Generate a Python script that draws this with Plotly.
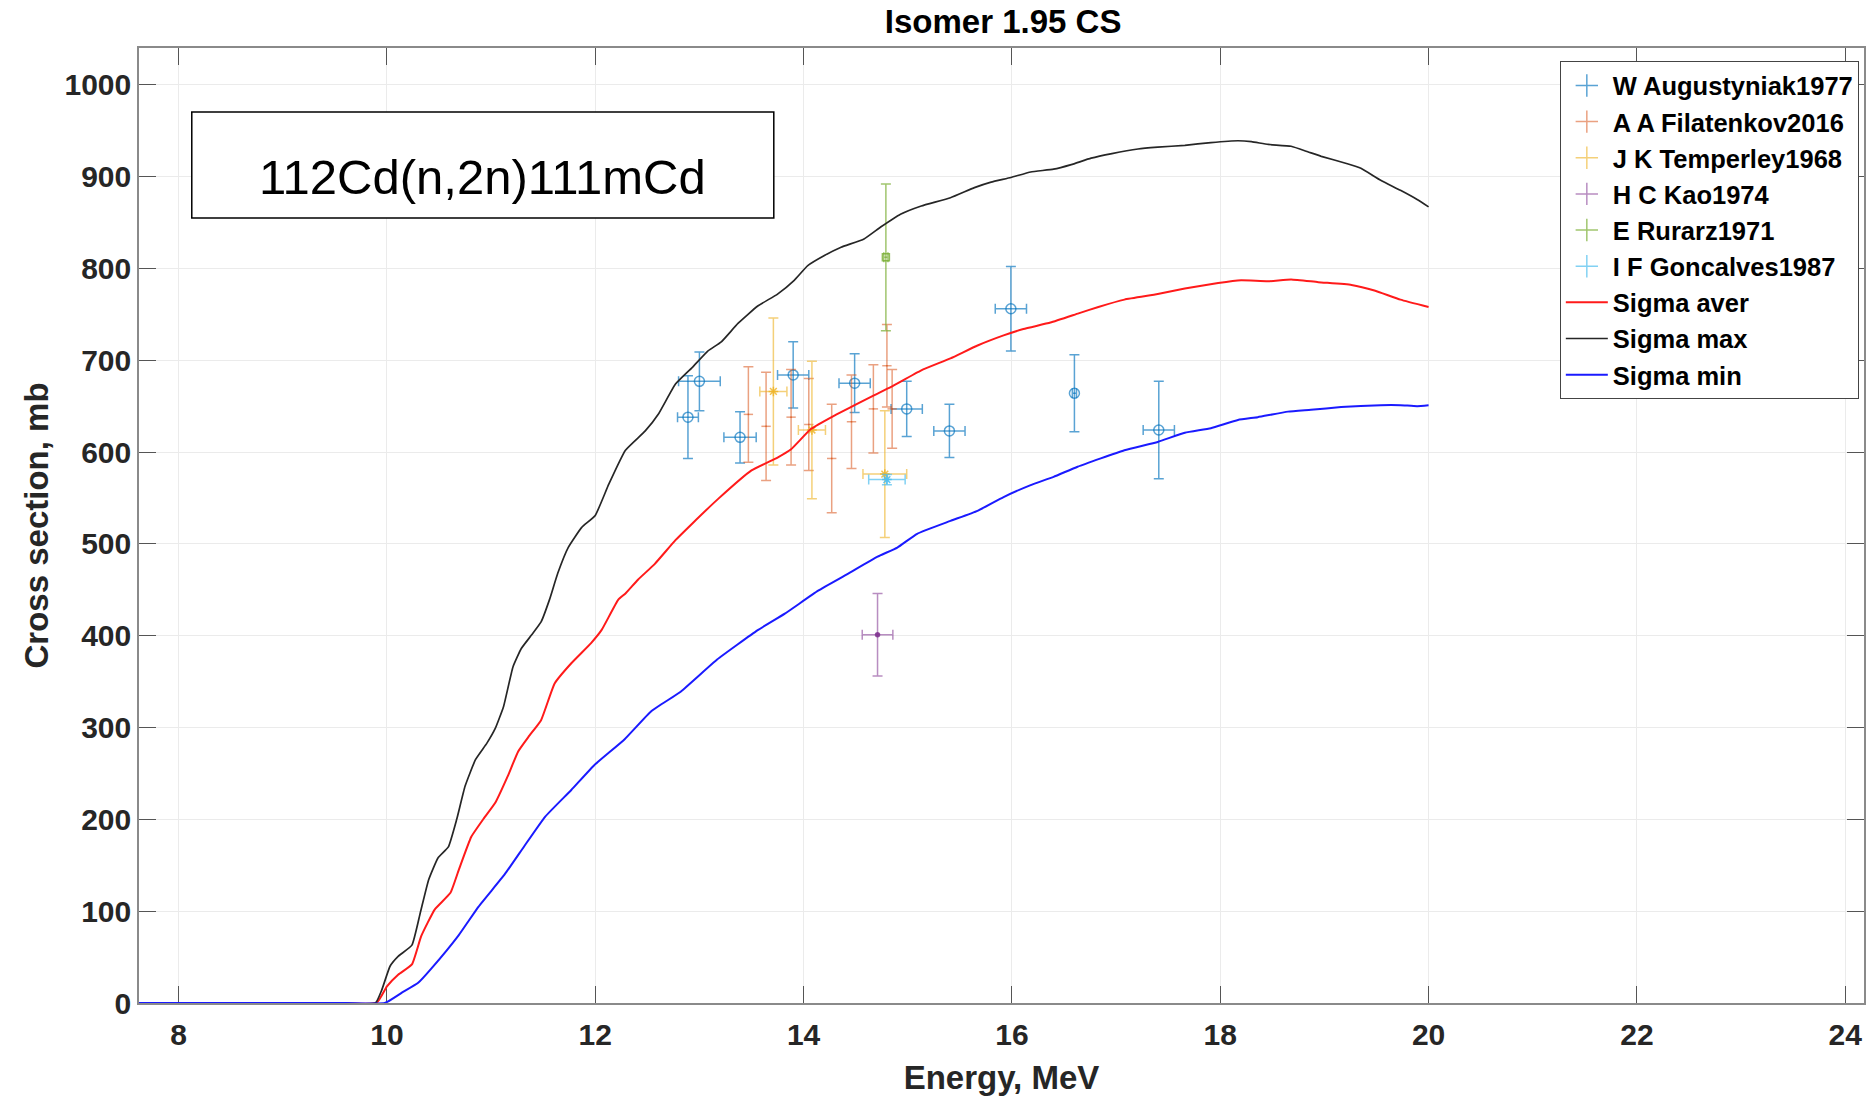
import plotly.graph_objects as go

# ---- evaluated curves ----
max_e = [7.62, 9.5, 9.89, 9.95, 10.03, 10.11, 10.24, 10.32, 10.40, 10.49, 10.59, 10.67, 10.75, 10.85, 10.96, 11.04,
         11.12, 11.21, 11.29, 11.39, 11.48, 11.56, 11.64, 11.74, 11.87, 12.0, 12.13, 12.29, 12.48, 12.61, 12.77,
         12.93, 13.08, 13.21, 13.37, 13.56, 13.75, 13.91, 14.04, 14.2, 14.36, 14.58, 14.74, 14.93, 15.13, 15.41,
         15.64, 15.8, 15.99, 16.18, 16.4, 16.57, 16.76, 16.96, 17.21, 17.4, 17.66, 17.91, 18.17, 18.3, 18.46,
         18.68, 18.84, 18.97, 19.22, 19.35, 19.54, 19.73, 19.89, 20.0]
max_cs = [0, 0, 0, 14, 40, 51, 63, 98, 134, 158, 170, 200, 236, 265, 283, 299,
          323, 366, 386, 401, 415, 439, 468, 496, 518, 531, 565, 602, 623, 642, 674,
          692, 710, 720, 740, 759, 772, 787, 803, 814, 823, 832, 845, 859, 868, 877,
          888, 894, 899, 905, 908, 913, 920, 925, 930, 932, 934, 937, 939, 938, 935,
          933, 927, 922, 914, 909, 896, 885, 875, 867]

aver_e = [7.62, 9.5, 9.9, 10.0, 10.11, 10.24, 10.33, 10.46, 10.61, 10.69, 10.81, 10.93, 11.04, 11.16, 11.26, 11.36,
          11.48, 11.61, 11.77, 11.96, 12.06, 12.22, 12.29, 12.41, 12.57, 12.77, 12.93, 13.18, 13.5, 13.75, 13.88,
          14.07, 14.3, 14.49, 14.68, 14.84, 15.13, 15.41, 15.67, 15.92, 16.11, 16.37, 16.64, 16.83, 17.08, 17.4,
          17.66, 17.98, 18.2, 18.46, 18.68, 18.94, 19.26, 19.48, 19.73, 20.0]
aver_cs = [0, 0, 0, 18, 31, 42, 73, 102, 120, 145, 181, 201, 218, 247, 274, 290,
           308, 348, 370, 392, 406, 439, 446, 461, 478, 504, 522, 549, 580, 594, 603,
           625, 640, 651, 662, 671, 689, 702, 716, 727, 734, 741, 751, 758, 766, 772,
           778, 784, 787, 786, 788, 785, 782, 776, 766, 758]

min_e = [7.62, 9.6, 9.98, 10.14, 10.3, 10.43, 10.69, 10.88, 11.13, 11.32, 11.52, 11.77, 11.99, 12.28, 12.54, 12.82,
         13.17, 13.56, 13.82, 14.14, 14.42, 14.71, 14.9, 15.09, 15.41, 15.67, 15.92, 16.18, 16.4, 16.63, 17.08,
         17.4, 17.66, 17.91, 18.17, 18.36, 18.65, 18.87, 19.16, 19.54, 19.73, 19.89, 20.0]
min_cs = [0, 0, 0, 11, 22, 38, 74, 105, 140, 171, 203, 232, 259, 287, 318, 339,
          374, 406, 424, 449, 467, 486, 496, 511, 525, 536, 551, 564, 573, 584, 602,
          611, 621, 626, 635, 638, 644, 646, 649, 651, 651, 650, 651]

# ---- experimental data ----
aug_e = [12.89, 13.00, 13.39, 13.90, 14.49, 14.99, 15.40, 15.99, 16.60, 17.41]
aug_cs = [638, 677, 616, 684, 675, 647, 623, 756, 664, 624]
aug_dcs = [45, 32, 28, 36, 32, 30, 29, 46, 42, 53]
aug_de = [0.10, 0.20, 0.155, 0.15, 0.15, 0.15, 0.15, 0.15, 0.02, 0.15]

fil_e = [13.47, 13.64, 13.88, 14.05, 14.27, 14.46, 14.67, 14.80, 14.85]
fil_cs = [641, 628, 638, 630, 593, 633, 647, 694, 647]
fil_dcs = [52, 59, 52, 50, 59, 51, 48, 45, 43]
fil_de = [0.045, 0.045, 0.045, 0.045, 0.045, 0.045, 0.045, 0.045, 0.045]

tem_e = [13.71, 14.08, 14.78]
tem_cs = [666, 624, 576]
tem_dcs = [80, 75, 69]
tem_de = [0.13, 0.13, 0.21]

kao_e = [14.71]
kao_cs = [401]
kao_dcs = [45]
kao_de = [0.147]

rur_e = [14.79]
rur_cs = [812]
rur_dcs = [80]
rur_de = [0.02]

gon_e = [14.80]
gon_cs = [570]
gon_dcs = [5.5]
gon_de = [0.175]

x_ticks = [8, 10, 12, 14, 16, 18, 20, 22, 24]
y_ticks = [0, 100, 200, 300, 400, 500, 600, 700, 800, 900, 1000]

FONT = "Liberation Sans, Arial, sans-serif"

fig = go.Figure()

def exp_trace(name, xs, ys, dys, dxs, color, symbol, size, mcolor, capx=5):
    # legend entry drawn as an error-bar cross
    fig.add_trace(go.Scatter(
        x=[None], y=[None], mode="markers", name=name, legendgroup=name,
        marker=dict(symbol="cross-thin-open", size=16, color=color, line=dict(color=color, width=1.5)),
    ))
    fig.add_trace(go.Scatter(
        x=xs, y=ys, mode="markers", name=name, legendgroup=name, showlegend=False,
        marker=dict(symbol=symbol, size=size, color=mcolor,
                    line=dict(color=mcolor, width=1.5)),
        error_y=dict(type="data", array=dys, visible=True, color=color, thickness=1.5, width=5),
        error_x=dict(type="data", array=dxs, visible=True, color=color, thickness=1.5, width=capx),
    ))

exp_trace("W Augustyniak1977", aug_e, aug_cs, aug_dcs, aug_de,
          "rgba(0,114,189,0.65)", "circle-open", 10, "rgba(0,114,189,0.65)")
exp_trace("A A Filatenkov2016", fil_e, fil_cs, fil_dcs, fil_de,
          "rgba(217,83,25,0.55)", "line-ew-open", 1, "rgba(217,83,25,0.55)", capx=0)
exp_trace("J K Temperley1968", tem_e, tem_cs, tem_dcs, tem_de,
          "rgba(237,177,32,0.6)", "asterisk-open", 8, "rgba(237,177,32,0.8)")
exp_trace("H C Kao1974", kao_e, kao_cs, kao_dcs, kao_de,
          "rgba(126,47,142,0.55)", "circle", 4, "rgba(126,47,142,0.8)")
exp_trace("E Rurarz1971", rur_e, rur_cs, rur_dcs, rur_de,
          "rgba(119,172,48,0.7)", "square-open", 7, "rgba(119,172,48,0.8)")
exp_trace("I F Goncalves1987", gon_e, gon_cs, gon_dcs, gon_de,
          "rgba(77,190,238,0.7)", "asterisk-open", 8, "rgba(77,190,238,0.9)")

fig.add_trace(go.Scatter(x=aver_e, y=aver_cs, mode="lines", name="Sigma aver", cliponaxis=False,
                         line=dict(color="#ff1a1a", width=2, shape="spline", smoothing=0.4)))
fig.add_trace(go.Scatter(x=max_e, y=max_cs, mode="lines", name="Sigma max", cliponaxis=False,
                         line=dict(color="#262626", width=1.7, shape="spline", smoothing=0.4)))
fig.add_trace(go.Scatter(x=min_e, y=min_cs, mode="lines", name="Sigma min", cliponaxis=False,
                         line=dict(color="#1a1aff", width=2, shape="spline", smoothing=0.4)))

axis_common = dict(
    showline=True, linecolor="#8a8a8a", linewidth=1.5, mirror="ticks",
    ticks="inside", ticklen=17, tickwidth=1.2, tickcolor="#555555",
    showgrid=True, gridcolor="#ebebeb", gridwidth=1, zeroline=False,
    layer="below traces",
    tickfont=dict(family=FONT, size=30, color="#262626", weight="bold"),
)

fig.update_xaxes(range=[7.62, 24.18], tickvals=x_ticks, ticktext=[str(v) for v in x_ticks],
                 ticklabelstandoff=4,
                 title=dict(text="Energy, MeV", font=dict(family=FONT, size=33, color="#262626", weight="bold"),
                            standoff=18),
                 **axis_common)
fig.update_yaxes(range=[0, 1040], tickvals=y_ticks, ticktext=[str(v) for v in y_ticks],
                 title=dict(text="Cross section, mb", font=dict(family=FONT, size=33, color="#262626", weight="bold"),
                            standoff=6),
                 **axis_common)

# label box
fig.add_shape(type="rect", xref="paper", yref="paper", x0=0.0306, x1=0.368, y0=0.822, y1=0.933,
              line=dict(color="black", width=1.5), fillcolor="white", layer="above")
fig.add_annotation(
    xref="paper", yref="paper", x=0.1993, y=0.865, xanchor="center", yanchor="middle",
    text="112Cd(n,2n)111mCd", showarrow=False,
    font=dict(family=FONT, size=49, color="black"),
)

fig.update_layout(
    width=1868, height=1096,
    margin=dict(l=139, r=2, t=48, b=93),
    paper_bgcolor="white", plot_bgcolor="white",
    title=dict(text="Isomer 1.95 CS", x=0.537, xanchor="center", y=1 - 21 / 1096, yanchor="middle",
               yref="container", font=dict(family=FONT, size=33, color="black", weight="bold")),
    legend=dict(x=0.997, y=0.986, xanchor="right", yanchor="top",
                bgcolor="white", bordercolor="#444444", borderwidth=1,
                font=dict(family=FONT, size=25.5, color="black", weight="bold"),
                tracegroupgap=0, itemwidth=42),
    showlegend=True,
)

fig.write_html("out.html")
